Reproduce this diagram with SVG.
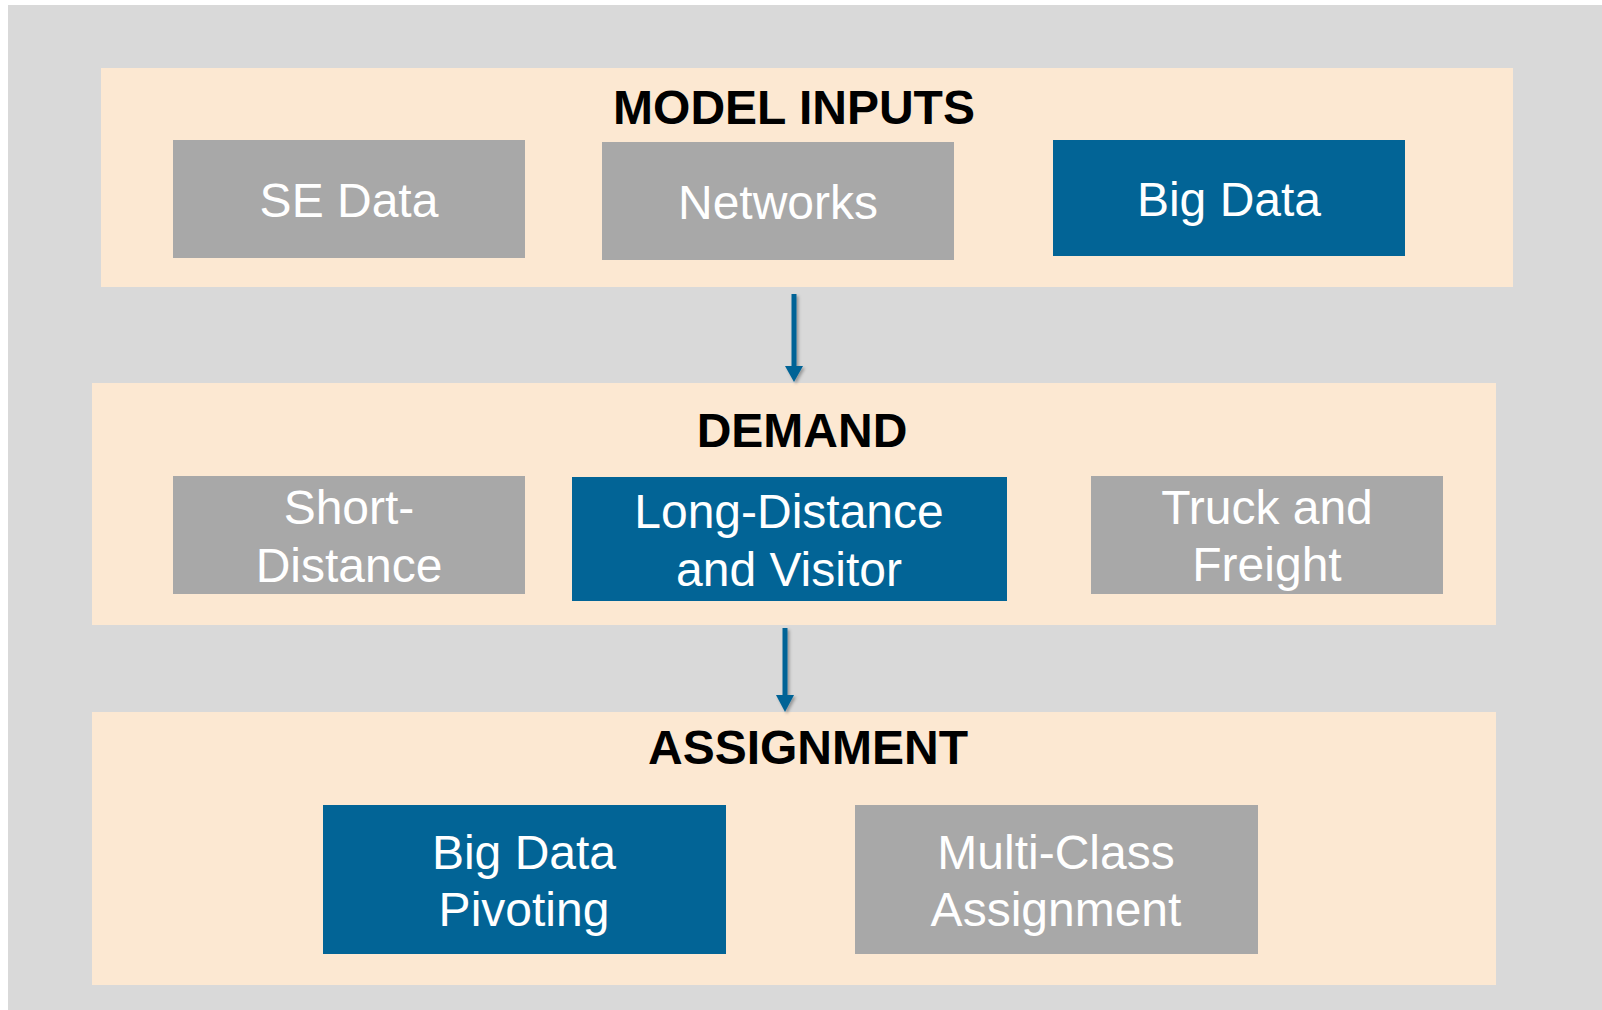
<svg xmlns="http://www.w3.org/2000/svg" width="1602" height="1010" viewBox="0 0 1602 1010">
  <style>
    .panel { fill: #fce8d2; }
    .grey { fill: #a8a8a8; }
    .blue { fill: #026496; }
    .title { font-family: "Liberation Sans", Arial, sans-serif; font-weight: bold; font-size: 48px; fill: #000000; text-anchor: middle; }
    .label { font-family: "Liberation Sans", Arial, sans-serif; font-size: 48px; fill: #ffffff; text-anchor: middle; }
    .conn { stroke: #026496; stroke-width: 5; fill: none; }
    .head { fill: #026496; }
  </style>
  <defs>
    <filter id="shadow" x="-50%" y="-10%" width="200%" height="130%">
      <feDropShadow dx="2" dy="2" stdDeviation="1.5" flood-color="#000000" flood-opacity="0.3"/>
    </filter>
  </defs>

  <!-- backdrop -->
  <rect x="0" y="0" width="1602" height="1010" fill="#ffffff"/>
  <rect x="8" y="5" width="1594" height="1005" fill="#d9d9d9"/>

  <!-- stage panels -->
  <g id="model-inputs">
    <rect class="panel" x="101" y="68" width="1412" height="219"/>
    <text class="title" x="794" y="124">MODEL INPUTS</text>
  </g>
  <g id="demand">
    <rect class="panel" x="92" y="383" width="1404" height="242"/>
    <text class="title" x="802" y="447">DEMAND</text>
  </g>
  <g id="assignment">
    <rect class="panel" x="92" y="712" width="1404" height="273"/>
    <text class="title" x="808" y="764">ASSIGNMENT</text>
  </g>

  <!-- model inputs -->
  <g id="se-data">
    <rect class="grey" x="173" y="140" width="352" height="118"/>
    <text class="label" x="349" y="217">SE Data</text>
  </g>
  <g id="networks">
    <rect class="grey" x="602" y="142" width="352" height="118"/>
    <text class="label" x="778" y="219">Networks</text>
  </g>
  <g id="big-data">
    <rect class="blue" x="1053" y="140" width="352" height="116"/>
    <text class="label" x="1229" y="216">Big Data</text>
  </g>

  <!-- demand -->
  <g id="short-distance">
    <rect class="grey" x="173" y="476" width="352" height="118"/>
    <text class="label" x="349" y="524">Short-</text>
    <text class="label" x="349" y="582">Distance</text>
  </g>
  <g id="long-distance">
    <rect class="blue" x="572" y="477" width="435" height="124"/>
    <text class="label" x="789" y="528">Long-Distance</text>
    <text class="label" x="789" y="586">and Visitor</text>
  </g>
  <g id="truck-freight">
    <rect class="grey" x="1091" y="476" width="352" height="118"/>
    <text class="label" x="1267" y="524">Truck and</text>
    <text class="label" x="1267" y="581">Freight</text>
  </g>

  <!-- assignment -->
  <g id="big-data-pivoting">
    <rect class="blue" x="323" y="805" width="403" height="149"/>
    <text class="label" x="524" y="869">Big Data</text>
    <text class="label" x="524" y="926">Pivoting</text>
  </g>
  <g id="multi-class">
    <rect class="grey" x="855" y="805" width="403" height="149"/>
    <text class="label" x="1056" y="869">Multi-Class</text>
    <text class="label" x="1056" y="926">Assignment</text>
  </g>

  <!-- connectors -->
  <g id="connectors" filter="url(#shadow)">
    <line class="conn" x1="794" y1="294" x2="794" y2="368"/>
    <polygon class="head" points="785,366 803,366 794,382"/>
    <line class="conn" x1="785" y1="628" x2="785" y2="697"/>
    <polygon class="head" points="776,695 794,695 785,712"/>
  </g>
</svg>
